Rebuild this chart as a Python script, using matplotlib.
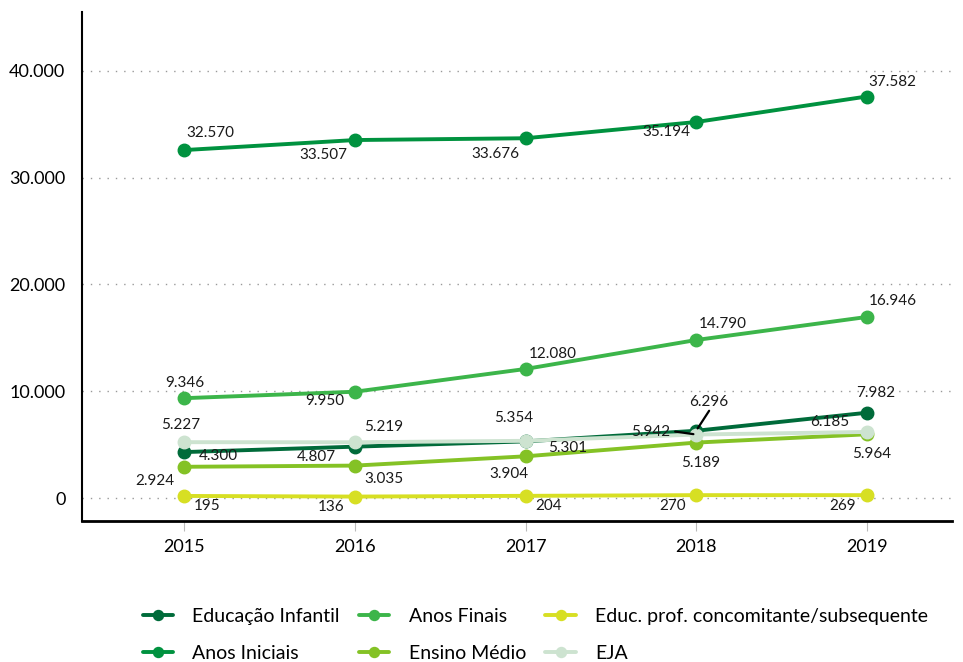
import matplotlib
matplotlib.use('Agg')
import matplotlib.pyplot as plt

plt.rcParams['font.family'] = ['Lato', 'DejaVu Sans']

years = ['2015', '2016', '2017', '2018', '2019']

series_names = ['Educação Infantil', 'Anos Iniciais', 'Anos Finais',
                'Ensino Médio', 'Educ. prof. concomitante/subsequente', 'EJA']

educacao_infantil = [4300, 4807, 5301, 6296, 7982]
anos_iniciais = [32570, 33507, 33676, 35194, 37582]
anos_finais = [9346, 9950, 12080, 14790, 16946]
ensino_medio = [2924, 3035, 3904, 5189, 5964]
educ_prof = [195, 136, 204, 270, 269]
eja = [5227, 5219, 5354, 5942, 6185]

colors = ['#006b3a', '#00923f', '#3cb54a', '#84c225', '#d7df23', '#cde3d0']

# label offsets in pixels (dx, dy) for each point
offsets = [
    [(34, -4), (-39, -10), (42, -7), (13, 29), (9, 20)],
    [(26, 17), (-32, -15), (-30, -16), (-30, -10), (26, 15)],
    [(0, 15), (-30, -9), (27, 15), (27, 16), (26, 16)],
    [(-30, -14), (29, -13), (-17, -18), (5, -20), (5, -20)],
    [(23, -10), (-24, -10), (23, -10), (-24, -11), (-24, -11)],
    [(-4, 17), (29, 15), (-12, 23), (-45, 3), (-37, 10)],
]
# points that get a leader line: (series, index) -> start of the line
leaders = {(0, 3): (13, 20), (5, 3): (-21, 3)}

data = [educacao_infantil, anos_iniciais, anos_finais, ensino_medio, educ_prof, eja]

fig = plt.figure(figsize=(9.63, 6.62), dpi=100)
ax = fig.add_axes([0.0852, 0.213, 0.9034, 0.769])

x = list(range(len(years)))
for i, vals in enumerate(data):
    ax.plot(x, vals, color=colors[i], lw=2.8, marker='o', markersize=9,
            label=series_names[i], zorder=3 + i, solid_capstyle='round')
    for j, v in enumerate(vals):
        dx, dy = offsets[i][j]
        txt = f'{v:,}'.replace(',', '.')
        ax.annotate(txt, (j, v), xytext=(dx, dy), textcoords='offset pixels',
                    ha='center', va='center', fontsize=11, color='#1a1a1a',
                    zorder=20)
        if (i, j) in leaders:
            lx, ly = leaders[(i, j)]
            ax.annotate('', (j, v), xytext=(lx, ly), textcoords='offset pixels',
                        arrowprops=dict(arrowstyle='-', color='black', lw=1.6,
                                        shrinkA=0, shrinkB=2), zorder=20)

ax.set_xlim(-0.6, 4.5)
ax.set_ylim(-2150, 45500)
ax.set_yticks([0, 10000, 20000, 30000, 40000])
ax.set_yticklabels(['0', '10.000', '20.000', '30.000', '40.000'])
ax.set_xticks(x)
ax.set_xticklabels(years)
ax.tick_params(axis='y', length=0, labelsize=13, pad=12)
ax.tick_params(axis='x', length=7, color='#bbbbbb', labelsize=13, pad=6)
ax.yaxis.grid(True, linestyle=(0, (1, 5)), color='#999999', lw=1)
ax.set_axisbelow(True)

for s in ['top', 'right']:
    ax.spines[s].set_visible(False)
ax.spines['left'].set_linewidth(1.5)
ax.spines['bottom'].set_linewidth(2)

fig.legend(loc='center left', bbox_to_anchor=(0.148, 0.041), ncol=3, frameon=False,
           fontsize=14, handlelength=1.55, columnspacing=1.0, labelspacing=1.05,
           handletextpad=1.0, markerscale=0.8, borderpad=0, borderaxespad=0)

fig.savefig('out.png', dpi=100)
